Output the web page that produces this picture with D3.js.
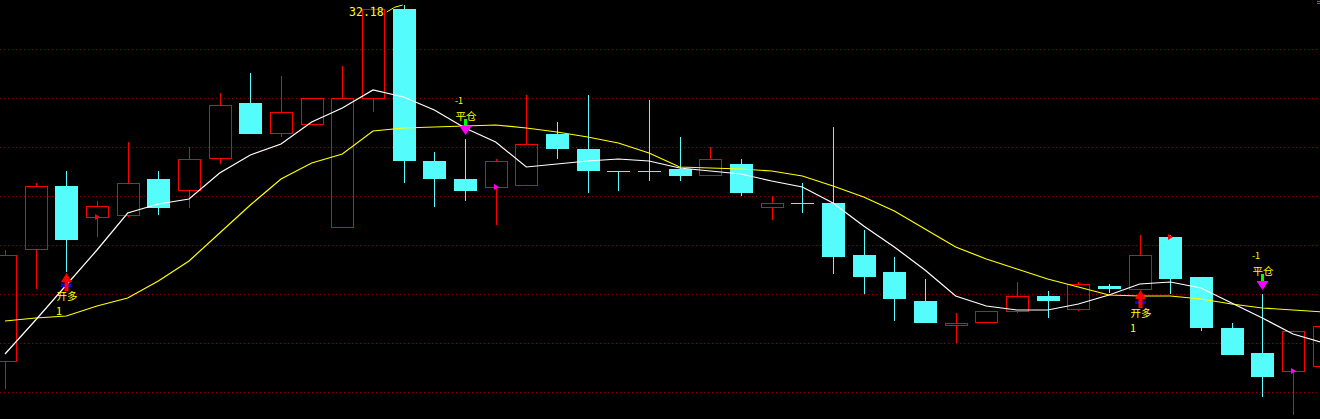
<!DOCTYPE html>
<html><head><meta charset="utf-8">
<script src="https://cdn.jsdelivr.net/npm/d3@7"></script>
<style>html,body{margin:0;padding:0;background:#000;overflow:hidden}</style>
</head><body><svg id="c" width="1320" height="419"></svg>
<script>
const days = ["1","2","3","4","5","6","7","8","9","10","11","12","13","14","15","16","17","18","19","20","21","22","23","24","25","26","27","28","29","30","31","32","33","34","35","36","37","38","39","40","41","42","43","44"];
const openP  = [21.50,24.86,26.75,25.82,25.88,26.96,26.63,27.59,29.24,28.34,28.61,25.52,29.39,32.06,27.50,26.96,26.72,26.78,28.31,27.86,27.20,27.20,27.26,27.08,27.41,26.12,26.24,26.24,24.68,24.17,23.30,22.58,22.67,23.00,23.45,23.06,23.75,23.66,25.22,24.02,22.49,21.74,21.20,21.35];
const closeP = [24.68,26.75,25.13,26.15,26.84,26.09,27.56,29.18,28.31,28.97,29.39,29.39,32.06,27.50,26.96,26.60,27.50,28.01,27.86,27.20,27.19,27.19,27.05,27.56,26.54,26.24,26.23,24.62,24.02,23.36,22.64,22.64,23.00,23.45,23.30,23.81,23.66,24.68,23.96,22.49,21.68,21.02,22.40,22.55];
const highP  = [24.83,26.84,27.20,26.30,28.07,27.20,27.92,29.54,30.14,30.05,29.39,30.35,32.15,32.18,27.77,28.16,27.56,29.48,28.67,29.48,27.20,29.33,28.22,27.92,27.56,26.45,26.84,28.52,25.43,24.62,23.96,22.94,23.00,23.87,23.60,23.87,23.81,25.28,25.28,24.02,22.64,23.51,22.40,22.55];
const lowP   = [20.66,23.66,24.17,25.22,25.82,25.88,26.09,27.41,28.31,28.22,28.61,25.52,28.97,26.84,26.12,26.30,25.58,26.78,27.56,26.54,26.60,26.90,26.90,27.08,26.45,25.73,25.94,24.11,23.51,22.70,22.64,22.04,22.67,22.94,22.79,23.00,23.54,23.66,23.51,22.40,21.68,20.42,19.88,21.35];
const ma5  = [21.71,22.73,23.78,24.83,25.94,26.21,26.36,27.14,27.68,28.01,28.67,29.09,29.63,29.42,29.03,28.49,28.07,27.32,27.41,27.50,27.56,27.50,27.29,27.20,27.11,26.90,26.72,26.24,25.55,24.92,24.23,23.45,23.15,23.03,23.03,23.21,23.48,23.81,23.87,23.69,23.24,22.79,22.31,22.04];
const ma10 = [22.70,22.79,22.85,23.15,23.39,23.90,24.50,25.34,26.18,26.96,27.44,27.71,28.40,28.49,28.52,28.55,28.58,28.49,28.37,28.22,28.04,27.74,27.32,27.29,27.26,27.20,27.05,26.75,26.42,26.00,25.46,24.92,24.56,24.26,23.96,23.72,23.48,23.45,23.45,23.36,23.21,23.09,23.03,22.97];
const gridTicks = [30.85,29.38,27.91,26.44,24.97,23.50,22.03,20.56];
const signalIdx  = [2, 15, 37, 41];
const signalType = ["buy","sell","buy","sell"];
const buyText = "开多", buyNum = "1", sellText = "平仓", sellNum = "-1";
const flagIdx = [3, 16, 38, 42];
const flagColor = ["#ff0000","#ff00ff","#ff0000","#ff00ff"];

const W = 1320, H = 419;
const svg = d3.select("#c");
svg.append("rect").attr("width",W).attr("height",H).attr("fill","#000");
const x = d3.scaleLinear().domain([0,42]).range([5,1293]);
const y = d3.scaleLinear().domain([19.76,32.33]).range([H,0]);
const RED="#ff0000", CY="#54fcfc";

// grid
svg.append("g").selectAll("line").data(gridTicks).join("line")
  .attr("x1",0).attr("x2",W)
  .attr("y1",d=>Math.round(y(d))+0.5).attr("y2",d=>Math.round(y(d))+0.5)
  .attr("stroke","#8b0000").attr("stroke-width",1).attr("stroke-dasharray","1,3");

const data = days.map((d,i)=>({d,i,o:openP[i],c:closeP[i],h:highP[i],l:lowP[i]}));
const g = svg.append("g");
data.forEach(k=>{
  const cx = Math.round(x(k.i));
  const yo = Math.round(y(k.o)), yc = Math.round(y(k.c)), yh = Math.round(y(k.h)), yl = Math.round(y(k.l));
  if (k.c >= k.o) {
    const top = yc, bot = Math.max(yo, yc+1);
    if (yh < top) g.append("line").attr("x1",cx+0.5).attr("x2",cx+0.5).attr("y1",yh).attr("y2",top).attr("stroke",RED);
    if (yl > bot) g.append("line").attr("x1",cx+0.5).attr("x2",cx+0.5).attr("y1",bot+1).attr("y2",yl).attr("stroke",RED);
    g.append("rect").attr("x",cx-11+0.5).attr("y",top+0.5).attr("width",22).attr("height",Math.max(1,bot-top))
      .attr("fill","none").attr("stroke",RED).attr("stroke-width",1);
  } else {
    g.append("line").attr("x1",cx+0.5).attr("x2",cx+0.5).attr("y1",yh).attr("y2",Math.max(yl,yh+1)).attr("stroke",CY);
    g.append("rect").attr("x",cx-11).attr("y",yo).attr("width",23).attr("height",Math.max(1,yc-yo)).attr("fill",CY);
  }
});

// moving averages
const line = d3.line().x((d,i)=>x(i)).y(d=>y(d));
svg.append("path").attr("d",line(ma10)).attr("fill","none").attr("stroke","#ffff00").attr("stroke-width",1.2);
svg.append("path").attr("d",line(ma5)).attr("fill","none").attr("stroke","#ffffff").attr("stroke-width",1.2);

// small flags
flagIdx.forEach((fi,j)=>{
  const cx = Math.round(x(fi)), yy = Math.round(y(openP[fi]));
  svg.append("path").attr("d",`M${cx-2},${yy-3}L${cx+3},${yy}L${cx-2},${yy+3}Z`).attr("fill",flagColor[j]);
});

// max label
const mi = d3.maxIndex(highP);
const mx = x(mi), my = y(highP[mi]);
svg.append("path").attr("d",`M${mx-17},${my+7}Q${mx-9},${my+1} ${mx-1},${my}`)
  .attr("fill","none").attr("stroke","#ffff00").attr("stroke-width",1);
svg.append("text").attr("x",mx-20).attr("y",my+11).attr("text-anchor","end")
  .attr("fill","#ffff00").attr("font-family","DejaVu Sans Mono, monospace").attr("font-size",11.5).text(highP[mi].toFixed(2));

// signals
const FONT = "Noto Sans CJK SC, sans-serif";
signalIdx.forEach((si,j)=>{
  const cx = Math.round(x(si));
  if (signalType[j]==="buy") {
    const t = Math.round(y(lowP[si]))+1;
    svg.append("rect").attr("x",cx-5).attr("y",t+11).attr("width",11).attr("height",3).attr("fill","#0000ff");
    svg.append("path").attr("d",`M${cx+0.5},${t}L${cx+6},${t+9}L${cx+2.5},${t+9}L${cx+2.5},${t+18}L${cx-1.5},${t+18}L${cx-1.5},${t+9}L${cx-5},${t+9}Z`).attr("fill","#ff0000");
    svg.append("text").attr("x",cx+1).attr("y",t+27).attr("text-anchor","middle").attr("fill","#ffff00")
      .attr("font-family",FONT).attr("font-size",10.5).text(buyText);
    svg.append("text").attr("x",cx-7).attr("y",t+42).attr("text-anchor","middle").attr("fill","#ffff00")
      .attr("font-family",FONT).attr("font-size",11).text(buyNum);
  } else {
    const t = Math.round(y(highP[si]))-4;
    svg.append("path").attr("d",`M${cx-5.5},${t-9}L${cx+6.5},${t-9}L${cx+0.5},${t}Z`).attr("fill","#ff00ff");
    svg.append("rect").attr("x",cx-1).attr("y",t-16).attr("width",3).attr("height",7).attr("fill","#00ff00");
    svg.append("text").attr("x",cx+1).attr("y",t-15).attr("text-anchor","middle").attr("fill","#ffff00")
      .attr("font-family",FONT).attr("font-size",10.5).text(sellText);
    svg.append("text").attr("x",cx-6).attr("y",t-31).attr("text-anchor","middle").attr("fill","#ffff00")
      .attr("font-family",FONT).attr("font-size",9).text(sellNum);
  }
});

// corner marker
svg.append("path").attr("d","M1317,1.5H1320M1317,3.5H1320").attr("stroke","#ff00ff").attr("stroke-width",1);
</script></body></html>
